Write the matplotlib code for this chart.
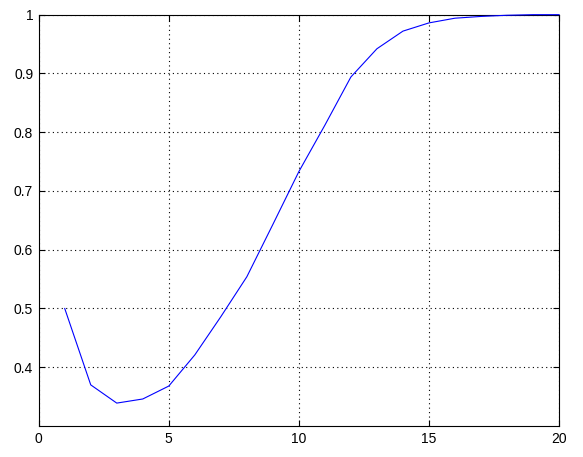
import matplotlib
matplotlib.use("Agg")
import matplotlib.pyplot as plt
import numpy as np

# values
x = np.arange(1, 21)
y = [0.500, 0.370, 0.339, 0.346, 0.368, 0.421, 0.486, 0.554, 0.643, 0.733,
     0.812, 0.894, 0.942, 0.972, 0.986, 0.994, 0.997, 0.999, 1.000, 1.000]
xticks = [0, 5, 10, 15, 20]
yticks = [0.4, 0.5, 0.6, 0.7, 0.8, 0.9, 1.0]
ylabels = ["0.4", "0.5", "0.6", "0.7", "0.8", "0.9", "1"]

plt.rcParams['font.family'] = ['Liberation Sans', 'DejaVu Sans']

fig = plt.figure(figsize=(5.83, 4.57), dpi=100)
ax = fig.add_axes([0.0664, 0.0678, 0.8925, 0.9001])
ax.plot(x, y, color=(0, 0, 1), linewidth=0.8, clip_on=False, zorder=3)

ax.set_xlim(0, 20)
ax.set_ylim(0.3, 1.0)
ax.set_xticks(xticks)
ax.set_xticklabels([str(t) for t in xticks])
ax.set_yticks(yticks)
ax.set_yticklabels(ylabels)
ax.grid(True, color='black', linestyle=(0, (1, 3)), linewidth=0.8)
ax.tick_params(direction='in', top=True, right=True, length=4, labelsize=10, pad=4)
for s in ax.spines.values():
    s.set_linewidth(0.8)

fig.savefig("out.png", dpi=100)
